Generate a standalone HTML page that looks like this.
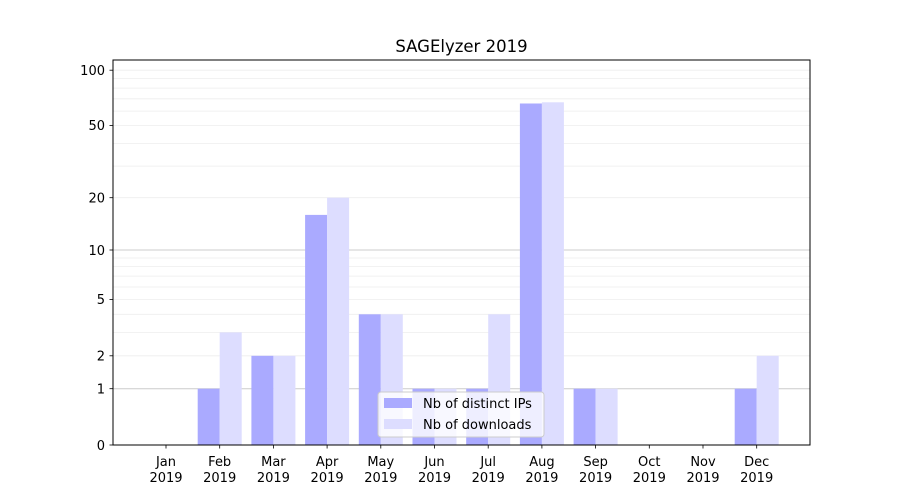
<!DOCTYPE html>
<html><head><meta charset="utf-8"><style>body{margin:0;background:#fff}svg{display:block;font-family:"DejaVu Sans","Liberation Sans",sans-serif}</style></head>
<body>
<svg width="900" height="500" xmlns="http://www.w3.org/2000/svg">
<rect width="900" height="500" fill="#fff"/>
<g stroke="#eeeeee" stroke-width="0.8">
<line x1="113" x2="810" y1="332.4" y2="332.4"/><line x1="113" x2="810" y1="314.3" y2="314.3"/>
<line x1="113" x2="810" y1="299.5" y2="299.5"/><line x1="113" x2="810" y1="287" y2="287"/>
<line x1="113" x2="810" y1="276.1" y2="276.1"/><line x1="113" x2="810" y1="266.6" y2="266.6"/>
<line x1="113" x2="810" y1="258" y2="258"/><line x1="113" x2="810" y1="197.7" y2="197.7"/>
<line x1="113" x2="810" y1="166.1" y2="166.1"/><line x1="113" x2="810" y1="143.4" y2="143.4"/>
<line x1="113" x2="810" y1="125.6" y2="125.6"/><line x1="113" x2="810" y1="111.1" y2="111.1"/>
<line x1="113" x2="810" y1="98.8" y2="98.8"/><line x1="113" x2="810" y1="88.1" y2="88.1"/>
<line x1="113" x2="810" y1="78.6" y2="78.6"/><line x1="113" x2="810" y1="70.2" y2="70.2"/>
<line x1="113" x2="810" y1="355.8" y2="355.8"/>
</g>
<g stroke="#cccccc" stroke-width="1"><line x1="113" x2="810" y1="388.7" y2="388.7"/><line x1="113" x2="810" y1="250" y2="250"/></g>
<g fill="#aaaaff">
<rect x="197.7" y="388.7" width="22" height="56.3"/>
<rect x="251.4" y="355.8" width="22" height="89.2"/>
<rect x="305.1" y="214.9" width="22" height="230.1"/>
<rect x="358.8" y="314.3" width="22" height="130.7"/>
<rect x="412.5" y="388.7" width="22" height="56.3"/>
<rect x="466.2" y="388.7" width="22" height="56.3"/>
<rect x="519.9" y="103.5" width="22" height="341.5"/>
<rect x="573.6" y="388.7" width="22" height="56.3"/>
<rect x="734.7" y="388.7" width="22" height="56.3"/>
</g>
<g fill="#ddddff">
<rect x="219.7" y="332.4" width="22" height="112.6"/>
<rect x="273.4" y="355.8" width="22" height="89.2"/>
<rect x="327.1" y="197.7" width="22" height="247.3"/>
<rect x="380.8" y="314.3" width="22" height="130.7"/>
<rect x="434.5" y="388.7" width="22" height="56.3"/>
<rect x="488.2" y="314.3" width="22" height="130.7"/>
<rect x="541.9" y="102.3" width="22" height="342.7"/>
<rect x="595.6" y="388.7" width="22" height="56.3"/>
<rect x="756.7" y="355.8" width="22" height="89.2"/>
</g>
<rect x="113" y="60" width="697" height="385" fill="none" stroke="#000" stroke-width="1"/>
<g stroke="#000" stroke-width="0.8">
<line x1="109.5" x2="113" y1="445" y2="445"/><line x1="109.5" x2="113" y1="388.7" y2="388.7"/>
<line x1="109.5" x2="113" y1="355.8" y2="355.8"/><line x1="109.5" x2="113" y1="299.5" y2="299.5"/>
<line x1="109.5" x2="113" y1="250" y2="250"/><line x1="109.5" x2="113" y1="197.7" y2="197.7"/>
<line x1="109.5" x2="113" y1="125.6" y2="125.6"/><line x1="109.5" x2="113" y1="70.2" y2="70.2"/>
<line x1="166" x2="166" y1="445" y2="448.5"/><line x1="219.7" x2="219.7" y1="445" y2="448.5"/>
<line x1="273.4" x2="273.4" y1="445" y2="448.5"/><line x1="327.1" x2="327.1" y1="445" y2="448.5"/>
<line x1="380.8" x2="380.8" y1="445" y2="448.5"/><line x1="434.5" x2="434.5" y1="445" y2="448.5"/>
<line x1="488.2" x2="488.2" y1="445" y2="448.5"/><line x1="541.9" x2="541.9" y1="445" y2="448.5"/>
<line x1="595.6" x2="595.6" y1="445" y2="448.5"/><line x1="649.3" x2="649.3" y1="445" y2="448.5"/>
<line x1="703" x2="703" y1="445" y2="448.5"/><line x1="756.7" x2="756.7" y1="445" y2="448.5"/>
</g>
<g font-size="13" text-anchor="end" fill="#000">
<text x="105" y="450">0</text><text x="105" y="393.5">1</text><text x="105" y="360.5">2</text>
<text x="105" y="304">5</text><text x="105" y="255">10</text><text x="105" y="202.5">20</text>
<text x="105" y="130">50</text><text x="105" y="75">100</text>
</g>
<g font-size="13" text-anchor="middle" fill="#000">
<text x="166" y="466">Jan</text><text x="166" y="482">2019</text>
<text x="219.7" y="466">Feb</text><text x="219.7" y="482">2019</text>
<text x="273.4" y="466">Mar</text><text x="273.4" y="482">2019</text>
<text x="327.1" y="466">Apr</text><text x="327.1" y="482">2019</text>
<text x="380.8" y="466">May</text><text x="380.8" y="482">2019</text>
<text x="434.5" y="466">Jun</text><text x="434.5" y="482">2019</text>
<text x="488.2" y="466">Jul</text><text x="488.2" y="482">2019</text>
<text x="541.9" y="466">Aug</text><text x="541.9" y="482">2019</text>
<text x="595.6" y="466">Sep</text><text x="595.6" y="482">2019</text>
<text x="649.3" y="466">Oct</text><text x="649.3" y="482">2019</text>
<text x="703" y="466">Nov</text><text x="703" y="482">2019</text>
<text x="756.7" y="466">Dec</text><text x="756.7" y="482">2019</text>
<text x="461.5" y="52" font-size="16.5">SAGElyzer 2019</text>
</g>
<rect x="378" y="392" width="166" height="45" rx="3" fill="#fff" fill-opacity="0.8" stroke="#cccccc"/>
<rect x="384" y="398" width="28" height="10" fill="#aaaaff"/>
<rect x="384" y="419" width="28" height="10" fill="#ddddff"/>
<text x="423" y="408" font-size="13">Nb of distinct IPs</text>
<text x="423" y="429" font-size="13">Nb of downloads</text>
</svg>
</body></html>
